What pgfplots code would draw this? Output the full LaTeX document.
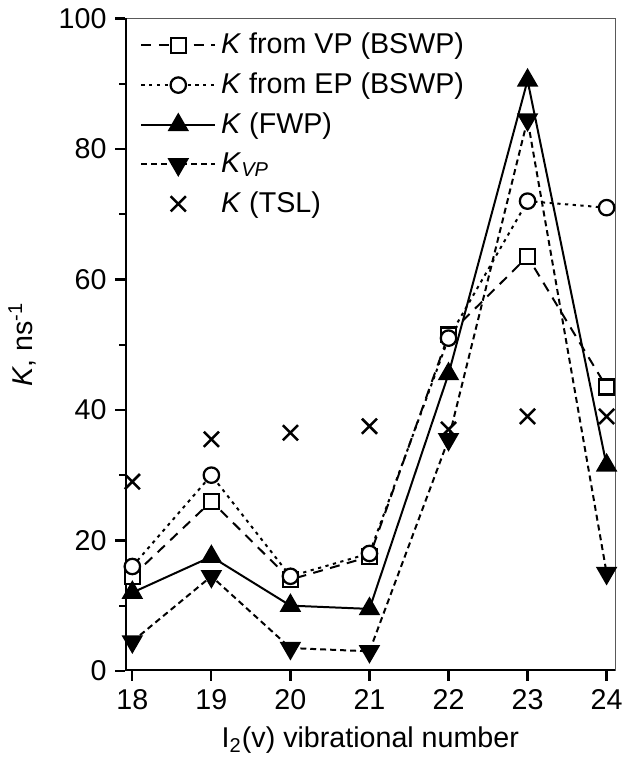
\documentclass[border=0pt]{standalone}
\usepackage{pgfplots}
\pgfplotsset{compat=1.18}
\usepackage{fontspec}
\setmainfont{Liberation Sans}

\begin{document}
\begin{tikzpicture}
\begin{axis}[
  width=196.8pt, height=262pt,
  scale only axis,
  xmin=17.91, xmax=24.11,
  ymin=0, ymax=100,
  xtick={18,19,...,24},
  ytick={0,20,...,100},
  minor ytick={10,30,...,90},
  tick align=outside,
  xtick pos=left, ytick pos=left,
  major tick length=4pt,
  minor tick length=2.4pt,
  every tick/.style={black, line width=0.9pt},
  axis line style={gray!70!black, line width=0.4pt},
  /pgf/number format/assume math mode=true,
  tick label style={font=\fontsize{11.5}{13}\selectfont},
  label style={font=\fontsize{11.5}{13}\selectfont},
  xlabel={I\textsubscript{2}(v) vibrational number},
  ylabel={\textit{K}, ns\textsuperscript{-1}},
  xlabel style={yshift=0pt},
  ylabel style={yshift=2pt},
  legend cell align=left,
  legend style={draw=none, fill=none, at={(0.025,0.99)}, anchor=north west,
    font=\fontsize{11.5}{13}\selectfont, row sep=2.2pt, inner sep=1pt,
    /tikz/every even column/.append style={column sep=2pt}},
  legend image code/.code={
    \draw[mark repeat=2, mark phase=2, #1] plot coordinates {(0cm,0cm) (0.52cm,0cm) (1.04cm,0cm)};
  },
]
\draw[line width=1.2pt] (rel axis cs:0,1) -- (rel axis cs:0,0) -- (rel axis cs:1,0);

\addplot[black, line width=0.8pt, dash pattern=on 4pt off 3pt,
  mark=square*, mark size=3pt, mark options={solid, fill=white, line width=0.9pt}]
  coordinates {(18,14.5) (19,26) (20,14) (21,17.5) (22,51.5) (23,63.5) (24,43.5)};
\addlegendentry{\textit{K} from VP (BSWP)}

\addplot[black, line width=0.8pt, dash pattern=on 1.3pt off 1.8pt,
  mark=*, mark size=3.1pt, mark options={solid, fill=white, line width=0.9pt}]
  coordinates {(18,16) (19,30) (20,14.5) (21,18) (22,51) (23,72) (24,71)};
\addlegendentry{\textit{K} from EP (BSWP)}

\addplot[black, line width=0.8pt, solid,
  mark=triangle*, mark size=4.2pt, mark options={solid, fill=black}]
  coordinates {(18,12) (19,17.5) (20,10) (21,9.5) (22,45.5) (23,90.5) (24,31.5)};
\addlegendentry{\textit{K} (FWP)}

\addplot[black, line width=0.8pt, dash pattern=on 2.4pt off 1.6pt,
  mark=triangle*, mark size=4.2pt, mark options={solid, fill=black, rotate=180}]
  coordinates {(18,4.5) (19,14.5) (20,3.5) (21,3) (22,35.5) (23,84.5) (24,15)};
\addlegendentry{\textit{K}\textsubscript{\textit{VP}}}

\addplot[black, line width=1pt, only marks, mark=x, mark size=4.3pt]
  coordinates {(18,29) (19,35.5) (20,36.5) (21,37.5) (22,37) (23,39) (24,39)};
\addlegendentry{\textit{K} (TSL)}
\end{axis}
\end{tikzpicture}
\end{document}
